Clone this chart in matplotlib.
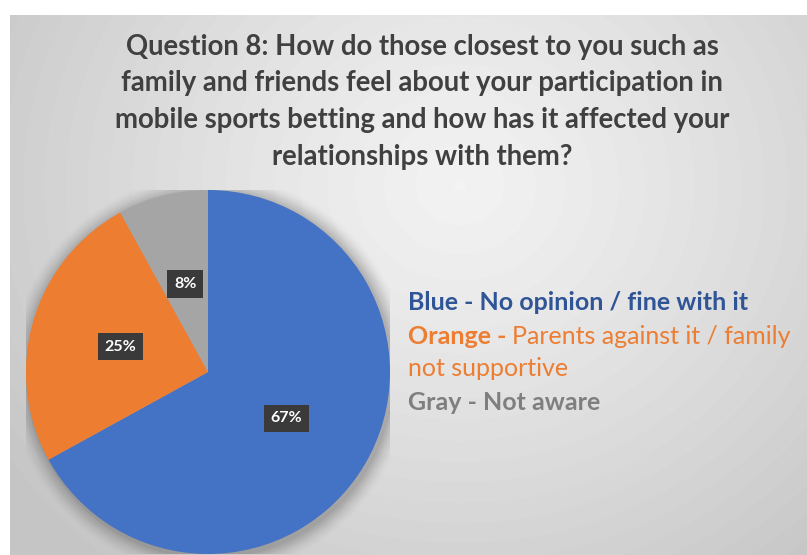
import numpy as np
import matplotlib.pyplot as plt
from matplotlib.patches import Circle

# survey answers, question 8
labels = ["Blue", "Orange", "Gray"]
shares = [67, 25, 8]
colors = ["#4472C4", "#ED7D31", "#A5A5A5"]

title = ("Question 8: How do those closest to you such as\n"
         "family and friends feel about your participation in\n"
         "mobile sports betting and how has it affected your\n"
         "relationships with them?")

W, H = 807, 555
fig = plt.figure(figsize=(W / 100, H / 100), dpi=100)
fig.patch.set_facecolor("white")

# radial gray background panel
bg = fig.add_axes([10 / W, 0, 1 - 10 / W, 1 - 15 / H])
bg.set_axis_off()
yy, xx = np.mgrid[0:540, 0:797]
d = np.hypot(xx - 450, (yy - 170) * 1.1) / 560.0
d = np.clip(d, 0, 1)
shade = 0.95 - 0.18 * d ** 1.2
bg.imshow(shade, cmap="gray", vmin=0, vmax=1, aspect="auto",
          extent=[0, 1, 0, 1], origin="upper")
bg.set_xlim(0, 1)
bg.set_ylim(0, 1)

# pie, centred at (208, 372) px with radius 182 px
cx, cy, r = 208, 372, 182
ax = fig.add_axes([(cx - r) / W, (H - cy - r) / H, 2 * r / W, 2 * r / H])
ax.set_axis_off()

# soft shadow around the pie
for i, a in enumerate(np.linspace(0.05, 0.012, 8)):
    ax.add_patch(Circle((0.01, -0.015), 1.0 + 0.012 * (i + 1),
                        color="black", alpha=a, lw=0, zorder=0))

wedges, texts, autotexts = ax.pie(
    shares, colors=colors, startangle=90, counterclock=False,
    radius=1.0, autopct="%d%%", pctdistance=0.5,
    wedgeprops=dict(linewidth=0),
    textprops=dict(color="white", fontsize=11.5, fontweight="bold",
                   family="Lato"))
for w in wedges:
    w.set_zorder(2)
for t in autotexts:
    t.set_zorder(3)
    t.set_bbox(dict(boxstyle="square,pad=0.42", facecolor="#3a3a3a",
                    edgecolor="none"))
ax.set_aspect("auto")
ax.set_xlim(-1.0, 1.0)
ax.set_ylim(-1.0, 1.0)

# title
fig.text(422 / W, 1 - 34 / H, title, ha="center", va="top",
         fontsize=19.8, fontweight="bold", color="#404040",
         family="Lato", linespacing=1.5)

# colour key at right
fs = 18
fig.text(408 / W, 1 - 302 / H, "Blue - No opinion / fine with it",
         ha="left", va="center", fontsize=fs, fontweight="bold",
         color="#2F5597", family="Lato")
t_or = fig.text(408 / W, 1 - 336 / H, "Orange - ", ha="left", va="center",
                fontsize=fs, fontweight="bold", color="#ED7D31",
                family="Lato")
fig.canvas.draw()
bb = t_or.get_window_extent()
fig.text(bb.x1 / W, 1 - 336 / H, "Parents against it / family",
         ha="left", va="center", fontsize=fs, color="#ED7D31",
         family="Lato")
fig.text(408 / W, 1 - 368 / H, "not supportive", ha="left", va="center",
         fontsize=fs, color="#ED7D31", family="Lato")
fig.text(408 / W, 1 - 403 / H, "Gray - Not aware", ha="left", va="center",
         fontsize=fs, fontweight="bold", color="#7F7F7F", family="Lato")

fig.savefig("out.png", dpi=100)
